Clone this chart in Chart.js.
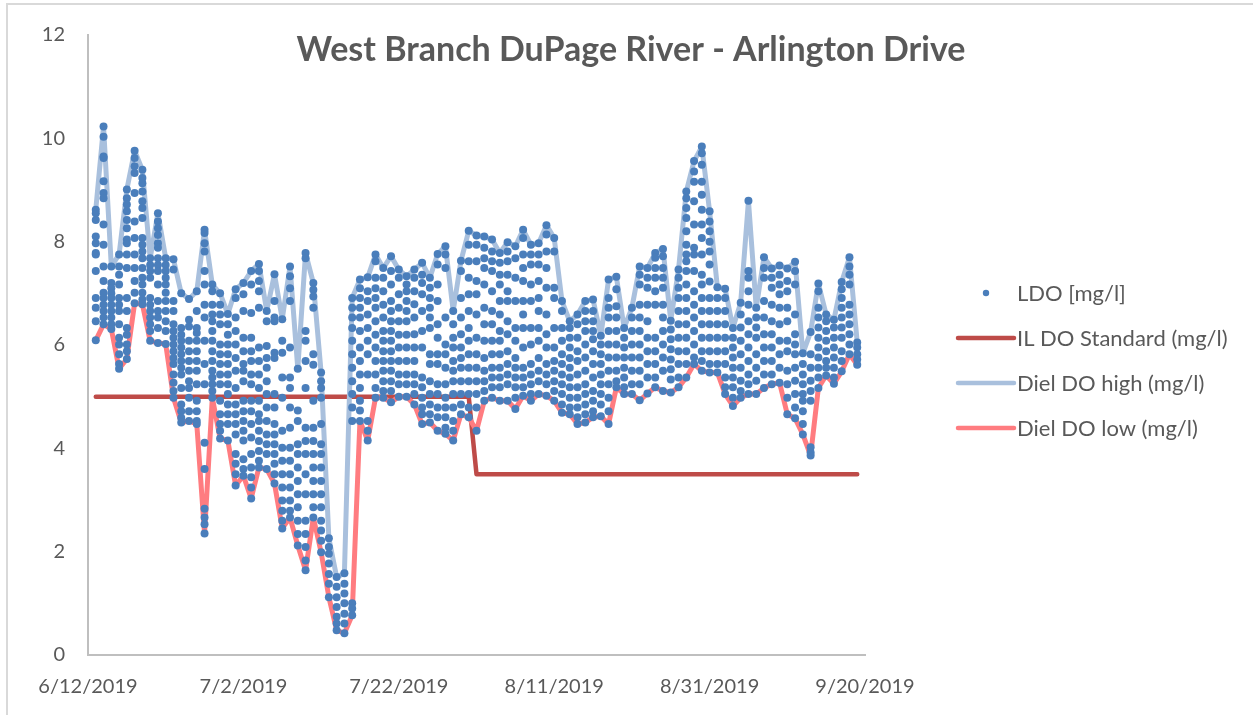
<!DOCTYPE html>
<html>
<head>
<meta charset="utf-8">
<script src="https://cdn.jsdelivr.net/npm/chart.js@4.4.1/dist/chart.umd.min.js"></script>
<style>
  html, body { margin: 0; padding: 0; background: #fff; overflow: hidden; }
  .wrap { position: relative; width: 1253px; height: 715px; }
  .frame { position: absolute; left: 6px; top: 3px; width: 1300px; height: 800px; border: 2px solid #d9d9d9; pointer-events: none; }
  canvas { position: absolute; left: 0; top: 0; }
</style>
</head>
<body>
<div class="wrap">
  <canvas id="doChart" width="1253" height="715"></canvas>
  <div class="frame"></div>
</div>
<script>
// x values are days after 6/12/2019
const tickLabels = ['6/12/2019', '7/2/2019', '7/22/2019', '8/11/2019', '8/31/2019', '9/20/2019'];

// LDO readings [mg/l], one list per day (6/13 ... 9/19)
const ldoReadings = [
  [8.62,8.55,8.42,8.10,7.97,7.78,7.75,7.43,6.91,6.72,6.46,6.09],
  [10.23,10.03,9.65,9.62,9.17,8.94,8.84,8.33,7.94,7.52,7.24,7.01,6.91,6.78,6.66,6.53,6.40],
  [7.52,7.20,7.10,7.00,6.91,6.78,6.66,6.53,6.40,6.31],
  [7.75,7.52,7.36,7.17,6.91,6.78,6.66,6.40,6.14,6.01,5.82,5.63,5.54],
  [9.01,8.84,8.72,8.59,8.42,8.26,8.04,7.97,7.75,7.49,6.91,6.66,6.33,6.20,6.01,5.88,5.73],
  [9.76,9.62,9.46,9.33,8.94,8.39,8.07,7.75,7.49,7.24,7.01,6.81],
  [9.39,9.23,9.13,8.97,8.78,8.65,8.46,8.07,7.94,7.81,7.68,7.49,7.30,7.17,7.01,6.88,6.79],
  [7.68,7.55,7.43,7.30,6.91,6.78,6.66,6.53,6.40,6.27,6.08],
  [8.55,8.39,8.26,8.13,7.97,7.88,7.68,7.55,7.43,7.17,6.85,6.66,6.53,6.33,6.04],
  [7.68,7.55,7.43,7.30,7.17,7.01,6.85,6.66,6.46,6.27,6.02],
  [7.66,7.46,6.85,6.66,6.40,6.27,6.14,6.01,5.88,5.75,5.63,5.43,5.27,5.11,4.98],
  [7.00,6.33,6.20,6.08,5.95,5.82,5.69,5.56,5.43,5.17,4.85,4.72,4.59,4.50],
  [6.89,6.49,6.36,6.08,5.88,5.69,5.50,5.30,5.17,4.98,4.72,4.53],
  [7.04,6.66,6.33,6.23,6.08,5.88,5.69,5.50,5.24,4.92,4.72,4.53,4.47],
  [8.23,8.17,7.97,7.81,7.43,7.17,6.78,6.53,6.08,5.63,5.24,4.11,3.60,2.83,2.66,2.53,2.35],
  [7.17,7.04,6.78,6.59,6.46,6.27,6.08,5.88,5.69,5.50,5.37,5.24,5.11,4.98],
  [7.00,6.78,6.59,6.40,6.01,5.82,5.63,5.43,5.24,4.92,4.66,4.47,4.34,4.19],
  [6.60,6.40,6.20,6.01,5.82,5.63,5.43,5.24,5.05,4.85,4.66,4.47,4.15],
  [7.08,6.91,6.53,6.27,6.01,5.75,5.50,5.17,4.85,4.66,4.47,4.27,3.89,3.70,3.50,3.28],
  [7.20,6.98,6.66,6.14,5.88,5.63,5.50,5.30,4.92,4.72,4.53,4.34,4.15,3.79,3.60,3.47],
  [7.43,7.17,6.62,6.14,5.88,5.69,5.43,5.24,4.92,4.72,4.47,4.21,3.89,3.63,3.44,3.24,3.03],
  [7.57,7.43,7.24,7.04,6.72,5.95,5.69,5.43,5.17,4.92,4.66,4.53,4.34,4.14,3.95,3.76,3.63],
  [6.66,6.46,5.98,5.75,5.56,5.30,5.05,4.79,4.53,4.27,4.08,3.89,3.60],
  [7.37,6.85,6.53,6.46,5.85,5.75,5.05,4.79,4.47,4.27,4.08,3.89,3.70,3.50,3.32],
  [6.50,6.08,5.85,5.37,4.98,4.34,4.01,3.76,3.50,3.24,2.99,2.79,2.60,2.45],
  [7.52,7.33,7.10,6.85,5.95,5.37,5.17,4.79,4.40,4.01,3.76,3.50,3.24,2.99,2.79,2.66],
  [5.54,4.73,4.53,4.08,3.89,3.63,3.37,3.11,2.86,2.60,2.34,2.12],
  [7.78,7.68,6.27,6.08,5.69,5.17,4.40,4.14,3.89,3.50,3.11,2.60,2.34,2.09,1.83,1.64],
  [7.20,7.07,6.94,6.72,5.82,5.62,4.92,4.40,4.14,3.89,3.63,3.37,3.11,2.86,2.66],
  [5.47,5.30,5.17,4.98,4.47,4.08,3.89,3.63,3.37,3.11,2.86,2.60,2.41,2.21,1.99],
  [2.26,2.09,1.96,1.77,1.57,1.38,1.12],
  [1.51,1.32,1.12,0.93,0.74,0.61,0.48],
  [1.58,1.38,1.19,1.00,0.80,0.61,0.42],
  [6.91,6.72,6.53,6.33,6.08,5.82,5.56,5.30,5.05,4.79,4.53,1.00,0.90,0.77],
  [7.27,7.10,6.91,6.72,6.53,6.27,5.95,5.69,5.43,5.17,4.92,4.73,4.53],
  [7.31,7.04,6.85,6.59,6.33,6.08,5.82,5.43,4.53,4.34,4.15],
  [7.75,7.62,7.30,7.10,6.91,6.72,6.46,6.20,5.95,5.69,5.43,5.17,4.98],
  [7.49,7.30,7.04,6.78,6.53,6.27,6.08,5.88,5.69,5.50,5.30,5.11,4.98],
  [7.72,7.43,7.17,6.85,6.66,6.46,6.27,6.08,5.88,5.69,5.50,5.30,5.11,4.89],
  [7.46,7.30,6.98,6.72,6.46,6.20,5.95,5.69,5.43,5.24,5.00],
  [7.33,7.17,7.04,6.85,6.66,6.46,6.20,5.95,5.69,5.43,5.24,5.00],
  [7.46,7.30,7.04,6.79,6.53,6.21,5.95,5.69,5.43,5.24,5.05,4.85],
  [7.59,7.36,7.20,6.98,6.66,6.27,5.95,5.37,5.18,4.98,4.79,4.66,4.47],
  [7.30,7.11,6.91,6.72,6.53,6.33,5.82,5.63,5.30,5.05,4.85,4.66,4.50],
  [7.76,7.56,7.17,6.85,6.40,6.14,5.82,5.63,5.24,5.05,4.79,4.60,4.34],
  [7.91,7.75,7.49,6.53,6.01,5.82,5.56,5.24,4.98,4.79,4.60,4.40,4.28],
  [6.66,6.40,6.14,5.95,5.69,5.50,5.30,5.05,4.79,4.53,4.34,4.15],
  [7.63,7.43,6.91,6.53,6.21,5.95,5.75,5.56,5.30,5.05,4.85,4.66],
  [8.21,7.94,7.62,7.30,6.98,6.66,6.33,6.08,5.82,5.56,5.30,5.05,4.79,4.60],
  [8.12,7.94,7.62,7.24,6.98,6.59,6.14,5.82,5.56,5.30,5.05,4.79,4.34],
  [8.10,7.88,7.68,7.49,7.17,6.72,6.40,6.08,5.75,5.50,5.30,5.11,4.92],
  [8.04,7.81,7.62,7.43,7.04,6.66,6.40,6.08,5.82,5.56,5.37,5.18,4.98],
  [7.78,7.59,7.36,7.17,6.85,6.59,6.27,6.08,5.82,5.56,5.37,5.18,4.92],
  [7.99,7.81,7.62,7.36,7.04,6.85,6.46,6.21,5.88,5.63,5.43,5.24,4.92],
  [7.91,7.68,7.30,6.85,6.33,6.08,5.75,5.56,5.37,5.18,4.98,4.76],
  [8.23,8.07,7.75,7.49,7.24,6.85,6.59,6.33,5.95,5.56,5.37,5.18,5.02],
  [7.94,7.75,7.56,7.17,6.85,6.33,6.01,5.63,5.43,5.24,5.05,4.92],
  [7.97,7.75,7.56,7.24,6.91,6.66,6.33,6.08,5.75,5.50,5.30,5.05],
  [8.32,8.14,7.81,7.49,7.11,6.59,6.21,5.95,5.63,5.43,5.24,5.02],
  [8.07,7.81,7.11,6.91,6.33,5.95,5.69,5.50,5.30,5.11,4.92],
  [6.85,6.66,6.33,6.08,5.82,5.63,5.43,5.24,5.05,4.85,4.69],
  [6.46,6.33,6.14,5.95,5.75,5.56,5.37,5.18,4.98,4.79,4.66],
  [6.59,6.40,6.14,5.88,5.69,5.43,5.18,4.98,4.79,4.60,4.47],
  [6.85,6.66,6.46,6.27,6.01,5.76,5.50,5.24,5.05,4.85,4.66,4.50],
  [6.88,6.66,6.46,6.27,6.11,5.88,5.63,5.37,5.11,4.92,4.72,4.60],
  [6.18,6.01,5.82,5.63,5.43,5.24,5.05,4.85,4.62],
  [7.27,6.91,6.72,6.53,6.27,6.01,5.76,5.50,5.24,4.98,4.72,4.47],
  [7.32,7.08,6.75,6.53,6.27,6.01,5.76,5.50,5.30,5.18],
  [6.33,6.14,5.95,5.76,5.56,5.37,5.18,5.05],
  [6.72,6.53,6.27,6.01,5.76,5.50,5.24,5.05],
  [7.52,7.36,7.17,6.78,6.53,6.27,6.01,5.76,5.50,5.24,4.93],
  [7.49,7.30,7.11,6.78,6.46,6.14,5.88,5.63,5.37,5.06],
  [7.78,7.69,7.49,7.30,7.04,6.78,6.14,5.88,5.63,5.37,5.18],
  [7.86,7.72,7.49,7.30,7.11,6.78,6.53,6.27,6.01,5.76,5.50,5.11],
  [6.47,6.30,6.11,5.92,5.72,5.53,5.33,5.08],
  [7.46,7.30,7.11,6.91,6.66,6.40,6.14,5.88,5.63,5.37,5.18],
  [8.97,8.84,8.65,8.46,8.20,7.94,7.75,7.62,7.43,7.17,6.91,6.66,6.40,6.14,5.88,5.63,5.37],
  [9.56,9.36,9.16,8.78,8.33,7.88,7.75,7.43,7.04,6.78,6.53,6.27,6.01,5.76,5.63],
  [9.84,9.71,9.49,9.16,8.91,8.62,8.33,8.07,7.75,7.36,7.17,6.91,6.66,6.40,6.14,5.88,5.69,5.50],
  [8.59,8.39,8.20,8.00,7.81,7.56,7.23,6.91,6.66,6.40,6.14,5.88,5.63,5.47],
  [7.12,6.91,6.66,6.40,6.14,5.88,5.63,5.47],
  [7.09,6.91,6.66,6.40,6.14,5.88,5.63,5.37,5.18,5.05],
  [6.33,6.14,5.95,5.76,5.56,5.37,5.18,4.98,4.82],
  [6.82,6.59,6.34,6.08,5.82,5.56,5.31,5.11,4.98],
  [8.79,7.43,7.30,7.04,6.78,6.46,6.21,5.95,5.69,5.43,5.24,5.05],
  [6.72,6.53,6.34,6.14,5.82,5.56,5.31,5.05],
  [7.70,7.49,7.30,6.85,6.53,6.21,5.95,5.69,5.43,5.17],
  [7.48,7.30,7.11,6.78,6.46,6.21,5.95,5.69,5.43,5.24],
  [7.54,7.36,7.17,6.98,6.72,6.40,6.08,5.82,5.56,5.27],
  [7.48,7.24,7.04,6.72,6.46,6.08,5.88,5.50,5.24,4.98,4.66],
  [7.61,7.43,7.17,6.59,6.21,6.01,5.82,5.56,5.31,5.05,4.79,4.58],
  [5.84,5.63,5.43,5.24,5.05,4.92,4.72,4.47,4.27],
  [6.25,5.82,5.56,5.31,5.11,4.92,4.02,3.92,3.86],
  [7.19,7.04,6.72,6.53,6.34,6.14,5.95,5.76,5.56,5.37,5.17],
  [6.59,6.46,6.27,6.08,5.88,5.69,5.56,5.41],
  [6.49,6.34,6.14,5.95,5.76,5.56,5.37,5.25],
  [7.22,7.08,6.91,6.72,6.53,6.34,6.14,5.88,5.69,5.49],
  [7.70,7.52,7.36,7.17,6.78,6.59,6.40,6.21,6.01,5.82],
  [6.05,5.95,5.82,5.72,5.62]
];

const dielHigh = [
  8.62,10.23,7.52,7.75,9.01,9.76,9.39,7.68,8.55,7.68,
  7.66,7.00,6.89,7.04,8.23,7.17,7.00,6.60,7.08,7.20,
  7.43,7.57,6.66,7.37,6.50,7.52,5.54,7.78,7.20,5.47,
  2.26,1.51,1.58,6.91,7.27,7.31,7.75,7.49,7.72,7.46,
  7.33,7.46,7.59,7.30,7.76,7.91,6.66,7.63,8.21,8.12,
  8.10,8.04,7.78,7.99,7.91,8.23,7.94,7.97,8.32,8.07,
  6.85,6.46,6.59,6.85,6.88,6.18,7.27,7.32,6.33,6.72,
  7.52,7.49,7.78,7.86,6.47,7.46,8.97,9.56,9.84,8.59,
  7.12,7.09,6.33,6.82,8.79,6.72,7.70,7.48,7.54,7.48,
  7.61,5.84,6.25,7.19,6.59,6.49,7.22,7.70,6.05
];

const dielLow = [
  6.09,6.40,6.31,5.54,5.73,6.81,6.79,6.08,6.04,6.02,
  4.98,4.50,4.53,4.47,2.35,4.98,4.19,4.15,3.28,3.47,
  3.03,3.63,3.60,3.32,2.45,2.66,2.12,1.64,2.66,1.99,
  1.12,0.48,0.42,0.77,4.53,4.15,4.98,4.98,4.89,5.00,
  5.00,4.85,4.47,4.50,4.34,4.28,4.15,4.66,4.60,4.34,
  4.92,4.98,4.92,4.92,4.76,5.02,4.92,5.05,5.02,4.92,
  4.69,4.66,4.47,4.50,4.60,4.62,4.47,5.18,5.05,5.05,
  4.93,5.06,5.18,5.11,5.08,5.18,5.37,5.63,5.50,5.47,
  5.47,5.05,4.82,4.98,5.05,5.05,5.17,5.24,5.27,4.66,
  4.58,4.27,3.86,5.17,5.41,5.25,5.49,5.82,5.62
];

// IL DO standard steps down on 7/31
const standardDays = [1, 49, 50, 99];
const standardValues = [5, 5, 3.5, 3.5];

const ldoPoints = [];
ldoReadings.forEach((day, i) => day.forEach(v => ldoPoints.push({ x: i + 1, y: v })));
const highPoints = dielHigh.map((v, i) => ({ x: i + 1, y: v }));
const lowPoints = dielLow.map((v, i) => ({ x: i + 1, y: v }));
const standardPoints = standardDays.map((d, i) => ({ x: d, y: standardValues[i] }));

const FONT = 'Lato, "Open Sans", sans-serif';
const TEXT = '#595959';

// legend at the right, like the spreadsheet one
const sideLegend = {
    id: 'sideLegend',
    afterDraw(chart, args, opts) {
        const ctx = chart.ctx;
        ctx.save();
        ctx.font = `${opts.fontSize}px ${FONT}`;
        ctx.textBaseline = 'middle';
        chart.data.datasets.forEach((ds, i) => {
            const y = opts.top + i * opts.rowGap;
            if (ds.showLine === false) {
                ctx.beginPath();
                ctx.fillStyle = ds.backgroundColor;
                ctx.arc(opts.left + opts.swatch / 2, y, 3.2, 0, Math.PI * 2);
                ctx.fill();
            } else {
                ctx.beginPath();
                ctx.strokeStyle = ds.borderColor;
                ctx.lineWidth = 4.5;
                ctx.lineCap = 'round';
                ctx.moveTo(opts.left, y);
                ctx.lineTo(opts.left + opts.swatch, y);
                ctx.stroke();
            }
            ctx.fillStyle = TEXT;
            ctx.fillText(ds.label, opts.left + opts.swatch + 3, y + 1);
        });
        ctx.restore();
    }
};

new Chart(document.getElementById('doChart'), {
    type: 'scatter',
    data: {
        datasets: [
            { label: 'LDO [mg/l]', data: ldoPoints, showLine: false, order: 0,
              backgroundColor: '#4a7ebb', borderWidth: 0, pointRadius: 4 },
            { label: 'IL DO Standard (mg/l)', data: standardPoints, showLine: true, order: 3,
              borderColor: '#be4b48', borderWidth: 4.5, pointRadius: 0, tension: 0,
              borderCapStyle: 'round', borderJoinStyle: 'round' },
            { label: 'Diel DO high (mg/l)', data: highPoints, showLine: true, order: 2,
              borderColor: '#a9c0dd', borderWidth: 5, pointRadius: 0, tension: 0,
              borderCapStyle: 'round', borderJoinStyle: 'round' },
            { label: 'Diel DO low (mg/l)', data: lowPoints, showLine: true, order: 1,
              borderColor: '#ff7c80', borderWidth: 5, pointRadius: 0, tension: 0,
              borderCapStyle: 'round', borderJoinStyle: 'round' }
        ]
    },
    options: {
        responsive: false,
        animation: false,
        devicePixelRatio: 1,
        layout: { padding: { left: 9, top: 0, right: 0, bottom: 0 } },
        plugins: {
            legend: { display: false },
            tooltip: { enabled: false },
            title: {
                display: true,
                text: 'West Branch DuPage River - Arlington Drive',
                color: TEXT,
                font: { family: FONT, size: 34, weight: 'bold', lineHeight: 1.2 },
                padding: { top: 28, bottom: -35.8 }
            },
            sideLegend: { left: 958, top: 293, rowGap: 45, swatch: 56, fontSize: 22 }
        },
        scales: {
            x: {
                type: 'linear', min: 0, max: 100,
                afterFit: s => { s.height = 60; },
                grid: { display: false, drawTicks: false },
                border: { display: true, color: '#bfbfbf', width: 2 },
                ticks: {
                    stepSize: 20, padding: 20, color: TEXT, maxRotation: 0,
                    font: { family: FONT, size: 20 },
                    callback: v => tickLabels[v / 20]
                }
            },
            y: {
                min: 0, max: 12,
                afterFit: s => { s.width = 79; },
                grid: { display: false, drawTicks: false },
                border: { display: true, color: '#bfbfbf', width: 2 },
                ticks: { stepSize: 2, padding: 23, color: TEXT, font: { family: FONT, size: 20 } }
            },
            // empty strip that keeps room for the legend on the right
            side: {
                type: 'linear', position: 'right',
                afterFit: s => { s.width = 388; },
                grid: { display: false, drawTicks: false },
                border: { display: false },
                ticks: { display: false }
            }
        }
    },
    plugins: [sideLegend]
});
</script>
</body>
</html>
